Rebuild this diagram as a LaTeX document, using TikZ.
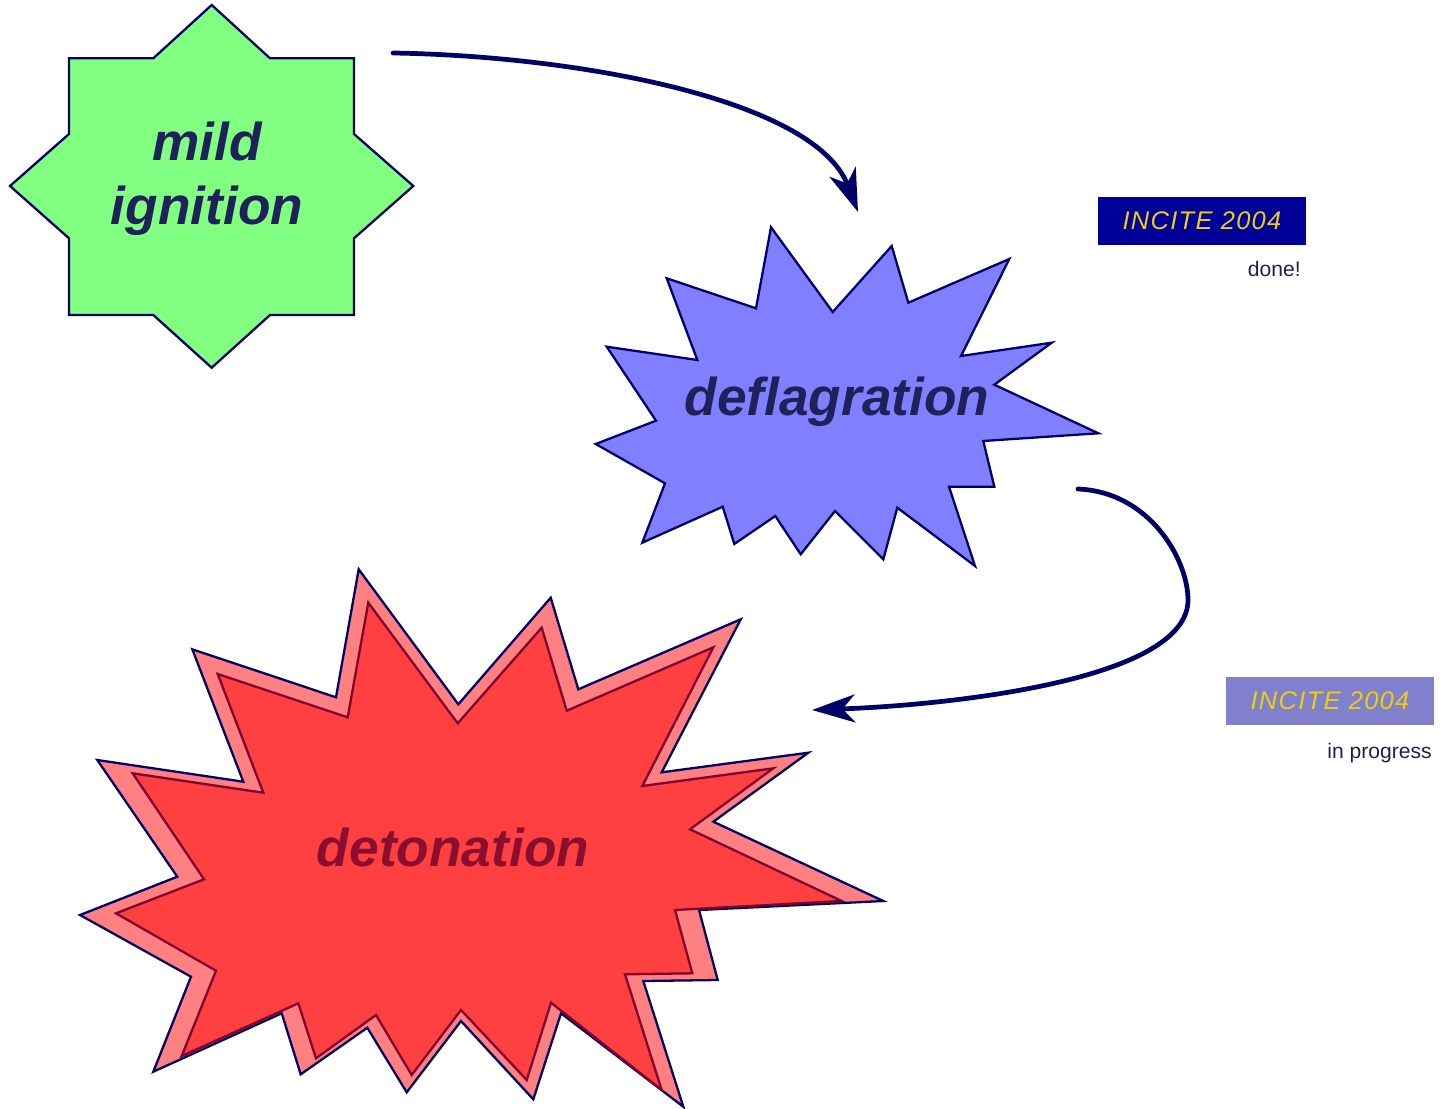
\documentclass[tikz,border=0pt]{standalone}
\usepackage{fontspec}
\setmainfont{Liberation Sans}
\newfontfamily\incitefont[LetterSpace=5]{Liberation Sans}
\usetikzlibrary{arrows.meta}
\definecolor{navyline}{RGB}{0,0,102}
\definecolor{mildfill}{RGB}{128,255,128}
\definecolor{deflfill}{RGB}{128,128,255}
\definecolor{detoouter}{RGB}{255,128,128}
\definecolor{detoinner}{RGB}{255,64,64}
\definecolor{detoedge}{RGB}{128,0,48}
\definecolor{labeltext}{RGB}{32,32,90}
\definecolor{detotext}{RGB}{140,14,46}
\definecolor{incitedark}{RGB}{0,0,153}
\definecolor{incitelight}{RGB}{128,128,204}
\definecolor{incitegold}{RGB}{235,205,20}
\definecolor{notetext}{RGB}{32,32,80}

\begin{document}
\begin{tikzpicture}[x=0.02cm,y=-0.02cm,
  burst/.style={line width=1.3pt,draw=navyline,line join=miter},
  burstlabel/.style={font=\fontsize{30.3}{36}\selectfont\bfseries\itshape,text=labeltext,inner sep=0pt},
  flow/.style={line width=2.7pt,draw=navyline,line cap=round,-{Stealth[length=0.86cm,width=0.56cm,inset=0.25cm]}},
  incite/.style={minimum width=4.16cm,minimum height=0.96cm,inner sep=0pt,text=incitegold,font=\fontsize{14.5}{17}\incitefont\itshape},
  note/.style={anchor=base east,inner sep=0pt,text=notetext,font=\fontsize{12}{14}\selectfont}]
  \useasboundingbox (0,0) rectangle (1442,1108);
  \filldraw [burst,fill=mildfill] (211.7,5) -- (270,58.3) -- (354,58.3) -- (354,134) -- (413.3,186) -- (354,238.3) -- (354,315) -- (270,315) -- (211.7,367.7) -- (153.3,315) -- (69,315) -- (69,238.3) -- (10,186) -- (69,134) -- (69,58.3) -- (153.3,58.3) -- cycle;
  \filldraw [burst,fill=deflfill] (771,227.3) -- (832.7,312) -- (891.7,246) -- (908.3,302.7) -- (1009.3,259) -- (961,356) -- (1051.7,342.7) -- (994.3,384.7) -- (1098.3,433.3) -- (983.3,441) -- (994.3,486.7) -- (949,486.7) -- (975,566) -- (897.3,507.7) -- (883.3,559.3) -- (835,511) -- (800.7,554.3) -- (775.3,516) -- (734.3,544) -- (722.7,506.7) -- (642.3,542.7) -- (665,483.3) -- (595.7,444) -- (656,420.7) -- (606.7,346.7) -- (697.3,360) -- (666.7,278.3) -- (756,308.3) -- cycle;
  \filldraw [burst,fill=detoouter] (358.7,569.3) -- (458.3,704.3) -- (550.7,597.7) -- (578.3,689.3) -- (740.7,619.3) -- (661.7,772.3) -- (808.3,752.7) -- (713.3,821.7) -- (883.3,901) -- (699,910) -- (717.7,980) -- (643.3,981) -- (683.3,1106.7) -- (561,1013.3) -- (533.3,1099.3) -- (461,1021) -- (406.7,1092.3) -- (367.3,1027.7) -- (300.7,1074.3) -- (281.7,1013.3) -- (153.3,1071.7) -- (191,976.7) -- (80,915) -- (177.3,876.7) -- (97.3,760) -- (243.3,781.7) -- (192.3,649.3) -- (336,697.3) -- cycle;
  \filldraw [burst,draw=detoedge,fill=detoinner] (368.3,602.7) -- (457.7,723.3) -- (541.7,627.7) -- (566.7,710.7) -- (713.3,647.3) -- (642.3,786) -- (773.3,768.3) -- (690,829.3) -- (841.7,901) -- (675,910) -- (692.3,973.3) -- (625,974.3) -- (661.7,1090) -- (551,1002.7) -- (526.7,1080) -- (461,1010) -- (411.7,1075) -- (376,1015) -- (316,1058.3) -- (298.3,1003.3) -- (181.7,1056) -- (216,970.7) -- (116,913.3) -- (204,879.3) -- (132.7,773.3) -- (263.3,792.7) -- (217.7,674) -- (347.7,717.3) -- cycle;
  \node [burstlabel,align=center,anchor=north] (mild) at (207,122) {mild\\ignition};
  \node [burstlabel,anchor=base] (defl) at (837,415) {deflagration};
  \node [burstlabel,anchor=base,text=detotext] (deto) at (453,866) {detonation};
  \node [incite,fill=incitedark] (incA) at (1202,221) {INCITE 2004};
  \node [note] (doneA) at (1301,276) {done!};
  \node [incite,fill=incitelight] (incB) at (1330,701) {INCITE 2004};
  \node [note] (progB) at (1432,758) {in progress};
  \coordinate (arA1) at (393,53);
  \coordinate (arB1) at (858,212);
  \coordinate (arA2) at (1078,489);
  \coordinate (arM2) at (1188,600);
  \coordinate (arB2) at (812,710);
  \draw [flow] (arA1) .. controls (580,56) and (815,100) .. (arB1);
  \draw [flow] (arA2) .. controls (1150,492) and (1188,560) .. (arM2) .. controls (1188,680) and (950,705) .. (arB2);
\end{tikzpicture}
\end{document}
